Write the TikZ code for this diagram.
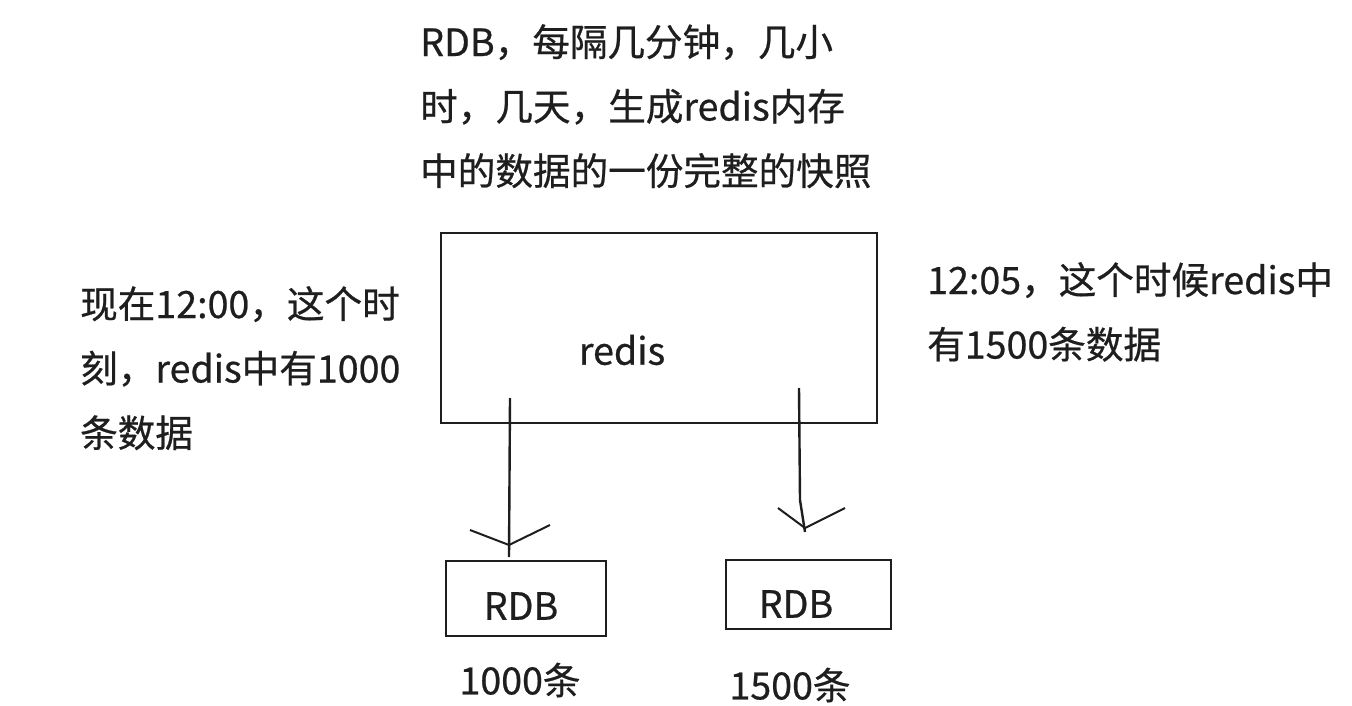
\documentclass[tikz,border=0pt]{standalone}
\usepackage{fontspec}
\setmainfont{Noto Sans CJK SC}
\newfontfamily\cjk[FakeBold=0.6]{Noto Sans CJK SC}
\definecolor{ink}{HTML}{1E1E1E}
\begin{document}
\begin{tikzpicture}[x=1pt,y=-1pt,
  txt/.style={inner sep=0pt, anchor=north west, align=left, text=ink, font=\cjk\fontsize{37.6}{64.5}\selectfont},
  boxstyle/.style={draw=ink, line width=2.5pt},
  conn/.style={draw=ink, line width=2.4pt},
  wing/.style={draw=ink, line width=2pt}]
\useasboundingbox (0,0) rectangle (1352,706);
\fill[white] (0,0) rectangle (1352,706);

% boxes
\draw[boxstyle] (441,233) rectangle (877,423);
\node[txt, anchor=center] (redis) at (622,350) {redis};

\draw[boxstyle] (446,561) rectangle (606,636);
\node[txt, anchor=center] (rdbA) at (521,606) {RDB};
\draw[boxstyle] (726,560) rectangle (891,629);
\node[txt, anchor=center] (rdbB) at (796,604) {RDB};

\node[txt, anchor=center] (cntA) at (520,680) {1000条};
\node[txt, anchor=center] (cntB) at (790,685) {1500条};

% texts
\node[txt] (top) at (420,24) {RDB，每隔几分钟，几小\\时，几天，生成redis内存\\中的数据的一份完整的快照};
\node[txt] (left) at (80,286) {现在12:00，这个时\\刻，redis中有1000\\条数据};
\node[txt] (right) at (927,262) {12:05，这个时候redis中\\有1500条数据};

% connectors
\coordinate (sA) at (510,398);
\coordinate (tA) at (509,545);
\coordinate (eA) at (509,557);
\coordinate (wA1) at (470,530);
\coordinate (wA2) at (550,525);
\draw[conn] (sA) -- (eA);
\draw[wing] (wA1) -- (tA) -- (wA2);

\coordinate (sB) at (799,388);
\coordinate (mB) at (800,500);
\coordinate (tB) at (805,528);
\coordinate (eB) at (805,532);
\coordinate (wB1) at (778,508);
\coordinate (wB2) at (845,508);
\draw[conn] (sB) -- (mB) -- (eB);
\draw[wing] (wB1) -- (tB) -- (wB2);
\end{tikzpicture}
\end{document}
